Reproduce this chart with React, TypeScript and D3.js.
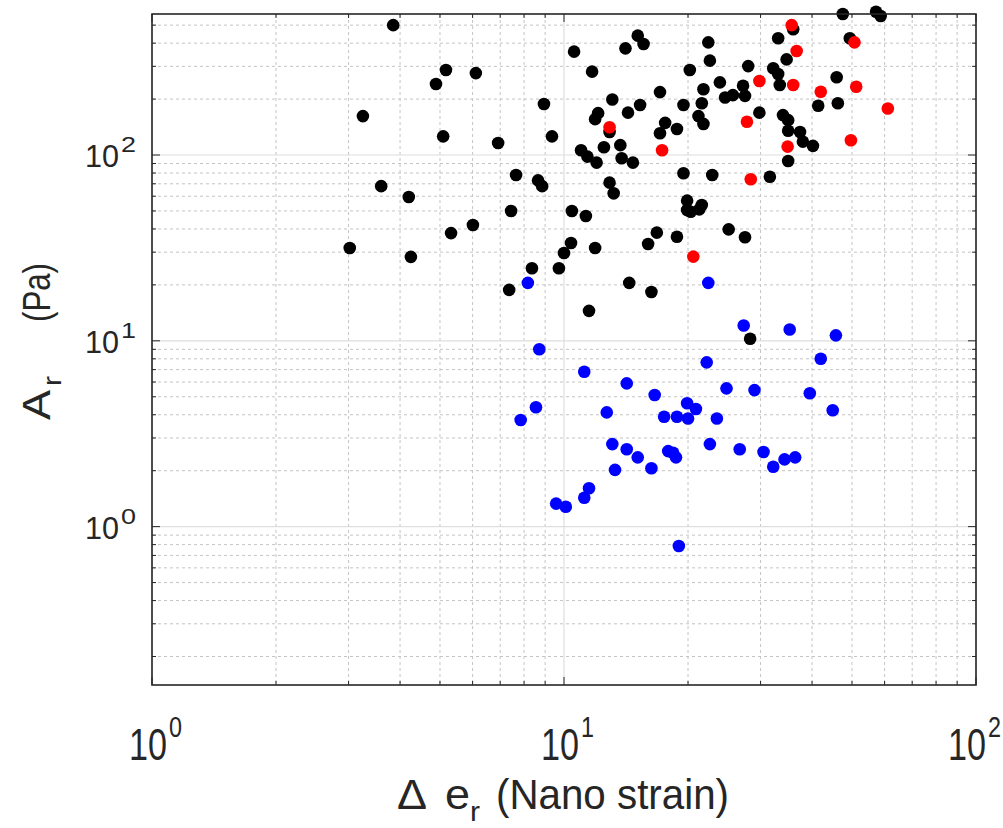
import React from "react";
import * as d3 from "d3";

// Black series (Δe_r, A_r)
const blackX = [3.02, 3.25, 3.6, 3.85, 4.2, 4.25, 4.89, 5.17, 5.09, 5.32, 6.11, 6.01, 6.92, 7.65, 7.44, 7.36, 8.36, 8.65, 8.85, 8.94, 9.35, 9.72, 10.45, 11.3, 10.4, 10.0, 11.9, 11.5, 28.3, 14.4, 16.3,
  10.58, 11.7, 14.1, 15.1, 15.6, 13.1, 12.1, 11.9, 12.9, 14.3, 15.3, 17.1, 19.5, 17.6, 17.1, 18.8, 20.2, 22.4, 22.6, 23.9, 24.6, 25.7, 21.8, 21.6, 21.2, 21.8,
  11.0, 11.4, 12.0, 12.5, 13.7, 13.8, 14.7, 12.9, 13.2, 19.5, 22.9, 19.9, 21.6, 19.9, 20.3, 21.3, 16.8, 16.0, 18.8, 25.1, 27.5,
  28.0, 27.2, 27.5, 29.8, 33.1, 32.2, 36.0, 49.4, 34.7, 33.1, 33.4, 45.9, 41.4, 46.2, 34.0, 35.0, 35.0, 37.4, 38.0, 40.2, 35.0, 31.6,
  47.5, 57.2, 58.7];
const blackY = [31.6, 162, 68, 500, 59.4, 28.3, 241, 287, 126, 38, 276, 42, 116, 78, 50, 18.8, 24.6, 73, 68, 188, 126, 24.6, 50, 47, 33.6, 29.7, 31.6, 14.5, 10.26, 20.5, 18.3,
  360, 281, 375, 439, 396, 199, 168, 156, 133, 169, 186, 218, 186, 149, 131, 138, 287, 404, 322, 246, 204, 210, 226, 190, 162, 147,
  106, 98, 91, 110, 113, 96, 91, 71, 62.2, 79.7, 78, 56.8, 53.8, 50.6, 49.5, 51, 38.2, 33.2, 36.3, 39.8, 36.1,
  301, 236, 208, 169, 425, 293, 475, 425, 327, 273, 238, 262, 184, 190, 164, 154, 135, 133, 118, 112, 92.8, 76.4,
  574, 590, 560];

// Red series
const redX = [35.7, 36.7, 29.8, 36.0, 50.7, 51.2, 42.0, 61.1, 27.8, 49.7, 34.9, 28.4, 12.9, 17.3, 20.6];
const redY = [500, 363, 250, 238, 404, 233, 219, 178, 151, 120, 111, 74, 141, 106, 28.4];

// Blue series
const blueX = [8.17, 22.4, 27.3, 35.3, 45.7, 8.71, 11.2, 14.2, 16.6, 22.2, 24.8, 29.0, 42.0, 39.5, 7.85, 8.55, 44.9, 12.7, 17.5, 18.8, 19.9, 20.0, 20.9, 23.5,
  13.1, 14.2, 15.1, 16.3, 13.3, 17.9, 18.4, 18.7, 22.6, 26.7, 30.5, 32.2, 34.3, 36.4, 11.5, 11.2, 9.57, 10.1, 19.0];
const blueY = [20.5, 20.5, 12.1, 11.5, 10.7, 9.0, 6.82, 5.9, 5.11, 7.66, 5.55, 5.43, 8.01, 5.22, 3.75, 4.39, 4.23, 4.12, 3.9, 3.9, 4.61, 3.82, 4.3, 3.82,
  2.78, 2.61, 2.36, 2.06, 2.02, 2.55, 2.5, 2.36, 2.78, 2.61, 2.52, 2.1, 2.3, 2.36, 1.61, 1.43, 1.33, 1.28, 0.787];

const xDecades = [0, 1, 2];
const yDecades = [0, 1, 2];
const tickBase = "10";
const xLabelA = "Δ";
const xLabelB = "e";
const xLabelSub = "r";
const xLabelTail = "(Nano strain)";
const yLabelA = "A";
const yLabelSub = "r";
const yLabelTail = "(Pa)";

const W = 1003, H = 828;
const L = 152, R = 976, T = 14, B = 685;

export default function App() {
  const x = d3.scaleLog().domain([1, 100]).range([L, R]);
  const y = d3.scaleLog().domain([0.1405, 574]).range([B, T]);

  const xMinor: number[] = [];
  for (const d of [0, 1]) for (let k = 2; k <= 9; k++) xMinor.push(k * Math.pow(10, d));
  const yMinor: number[] = [];
  for (const d of [-1, 0, 1, 2]) for (let k = 2; k <= 9; k++) {
    const v = k * Math.pow(10, d);
    if (v > y.domain()[0] && v < y.domain()[1]) yMinor.push(v);
  }

  const gridMinor = { stroke: "#c4c4c4", strokeWidth: 1, strokeDasharray: "3,3" };
  const gridMajor = { stroke: "#dedede", strokeWidth: 1.2 };
  const axisCol = "#262626";
  const font = "'Liberation Sans', Arial, sans-serif";

  const dots = (xs: number[], ys: number[], color: string) =>
    xs.map((v, i) => <circle key={color + i} cx={x(v)} cy={y(ys[i])} r={6.3} fill={color} />);

  return (
    <svg width={W} height={H} style={{ position: "absolute", left: 0, top: 0, background: "#fff" }}>
      <rect x={0} y={0} width={W} height={H} fill="#fff" />
      {/* minor grid */}
      {xMinor.map((v) => <line key={"xm" + v} x1={x(v)} x2={x(v)} y1={T} y2={B} {...gridMinor} />)}
      {yMinor.map((v) => <line key={"ym" + v} x1={L} x2={R} y1={y(v)} y2={y(v)} {...gridMinor} />)}
      {/* major grid */}
      {xDecades.map((d) => <line key={"xM" + d} x1={x(Math.pow(10, d))} x2={x(Math.pow(10, d))} y1={T} y2={B} {...gridMajor} />)}
      {yDecades.map((d) => <line key={"yM" + d} x1={L} x2={R} y1={y(Math.pow(10, d))} y2={y(Math.pow(10, d))} {...gridMajor} />)}
      {/* ticks */}
      {xMinor.map((v) => (
        <g key={"xt" + v}>
          <line x1={x(v)} x2={x(v)} y1={B} y2={B - 4} stroke={axisCol} />
          <line x1={x(v)} x2={x(v)} y1={T} y2={T + 4} stroke={axisCol} />
        </g>
      ))}
      {xDecades.map((d) => (
        <g key={"xT" + d}>
          <line x1={x(Math.pow(10, d))} x2={x(Math.pow(10, d))} y1={B} y2={B - 8} stroke={axisCol} />
          <line x1={x(Math.pow(10, d))} x2={x(Math.pow(10, d))} y1={T} y2={T + 8} stroke={axisCol} />
        </g>
      ))}
      {yMinor.map((v) => (
        <g key={"yt" + v}>
          <line x1={L} x2={L + 4} y1={y(v)} y2={y(v)} stroke={axisCol} />
          <line x1={R} x2={R - 4} y1={y(v)} y2={y(v)} stroke={axisCol} />
        </g>
      ))}
      {yDecades.map((d) => (
        <g key={"yT" + d}>
          <line x1={L} x2={L + 8} y1={y(Math.pow(10, d))} y2={y(Math.pow(10, d))} stroke={axisCol} />
          <line x1={R} x2={R - 8} y1={y(Math.pow(10, d))} y2={y(Math.pow(10, d))} stroke={axisCol} />
        </g>
      ))}
      {/* data */}
      {dots(blackX, blackY, "#000000")}
      {dots(redX, redY, "#ff0000")}
      {dots(blueX, blueY, "#0000ff")}
      {/* frame */}
      <rect x={L} y={T} width={R - L} height={B - T} fill="none" stroke={axisCol} strokeWidth={1.6} />
      {/* y tick labels */}
      {yDecades.map((d) => {
        const yy = y(Math.pow(10, d));
        return (
          <g key={"yl" + d} fontFamily={font} fill="#262626">
            <text x={L - 67} y={yy + 12} fontSize={32} textLength={34} lengthAdjust="spacingAndGlyphs">{tickBase}</text>
            <text x={L - 31} y={yy - 3} fontSize={22} textLength={15} lengthAdjust="spacingAndGlyphs">{d}</text>
          </g>
        );
      })}
      {/* x tick labels */}
      {xDecades.map((d) => {
        const xx = Math.min(x(Math.pow(10, d)), 971);
        return (
          <g key={"xl" + d} fontFamily={font} fill="#262626">
            <text x={xx - 23} y={760} fontSize={44} textLength={38} lengthAdjust="spacingAndGlyphs">{tickBase}</text>
            <text x={xx + 17} y={737} fontSize={29} textLength={13} lengthAdjust="spacingAndGlyphs">{d}</text>
          </g>
        );
      })}
      {/* x label */}
      <g fontFamily={font} fill="#262626">
        <text x={397} y={809} fontSize={42} textLength={30} lengthAdjust="spacingAndGlyphs">{xLabelA}</text>
        <text x={445} y={809} fontSize={42} textLength={25} lengthAdjust="spacingAndGlyphs">{xLabelB}</text>
        <text x={470} y={821} fontSize={28} textLength={10} lengthAdjust="spacingAndGlyphs">{xLabelSub}</text>
        <text x={496} y={809} fontSize={42} textLength={233} lengthAdjust="spacingAndGlyphs">{xLabelTail}</text>
      </g>
      {/* y label (rotated) */}
      <g transform="translate(50,0) rotate(-90)" fontFamily={font} fill="#262626">
        <text x={-420} y={0} fontSize={38} textLength={30} lengthAdjust="spacingAndGlyphs">{yLabelA}</text>
        <text x={-386} y={11} fontSize={26} textLength={10} lengthAdjust="spacingAndGlyphs">{yLabelSub}</text>
        <text x={-322} y={0} fontSize={38} textLength={59} lengthAdjust="spacingAndGlyphs">{yLabelTail}</text>
      </g>
    </svg>
  );
}
